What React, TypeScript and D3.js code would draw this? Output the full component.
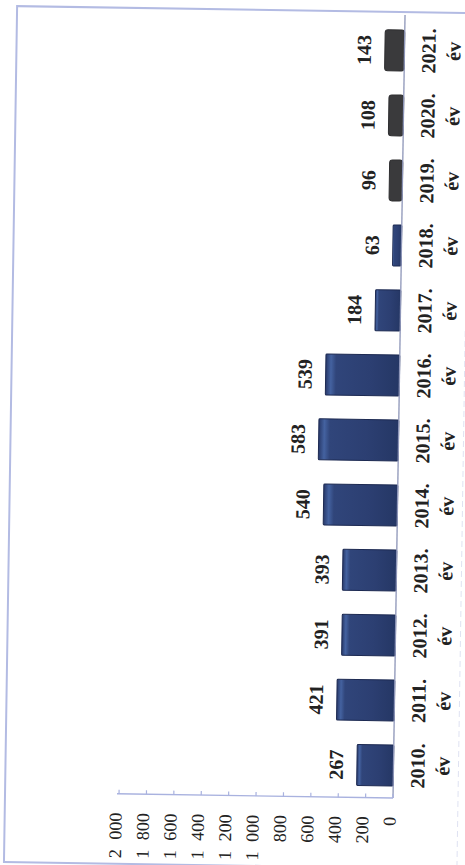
import React from 'react';
import * as d3 from 'd3';

const categories = ['2010.', '2011.', '2012.', '2013.', '2014.', '2015.', '2016.', '2017.', '2018.', '2019.', '2020.', '2021.'];
const subLabel = 'év';
const values = [267, 421, 391, 393, 540, 583, 539, 184, 63, 96, 108, 143];
const darkYears = ['2019.', '2020.', '2021.'];
const tickValues = [0, 200, 400, 600, 800, 1000, 1200, 1400, 1600, 1800, 2000];
const tickLabels = ['0', '200', '400', '600', '800', '1 000', '1 200', '1 400', '1 600', '1 800', '2 000'];

const SERIF = "'Liberation Serif', 'Times New Roman', serif";

export default function App() {
  const W = 465;
  const H = 865;
  const axisX = 393;
  const axisY = 798;

  const y = d3
    .scaleBand<string>()
    .domain(categories)
    .range([axisY, 18])
    .paddingInner(0.37)
    .paddingOuter(0.185);

  const x = d3.scaleLinear().domain([0, 2000]).range([axisX, 119]);

  const frameColor = '#b3bbe3';

  return (
    <svg
      width={W}
      height={H}
      style={{ position: 'absolute', left: 0, top: 0, display: 'block' }}
    >
      <defs>
        <linearGradient id="navy" x1="0" y1="0" x2="1" y2="0">
          <stop offset="0%" stopColor="#28396a" />
          <stop offset="7%" stopColor="#4462a0" />
          <stop offset="14%" stopColor="#30457a" />
          <stop offset="60%" stopColor="#2c3f72" />
          <stop offset="100%" stopColor="#253765" />
        </linearGradient>
      </defs>
      <rect x={0} y={0} width={W} height={H} fill="#ffffff" />
      <g transform={`rotate(0.88, ${axisX}, ${axisY})`}>
        {/* page frame */}
        <rect x={5} y={12} width={520} height={856} fill="none" stroke={frameColor} strokeWidth={2} />
        <line x1={458} x2={458} y1={330} y2={880} stroke="#dfe2f2" strokeWidth={1} strokeDasharray="6 4" />

        {/* bars */}
        {categories.map((c, i) => {
          const v = values[i];
          const x0 = x(v);
          const w = axisX - x0;
          const yy = y(c) as number;
          const dark = darkYears.includes(c);
          return (
            <rect
              key={c}
              x={x0}
              y={yy}
              width={w}
              height={y.bandwidth()}
              rx={dark ? 3 : 1}
              fill={dark ? '#3a3a3c' : 'url(#navy)'}
              stroke={dark ? '#2e2e30' : '#1d2a52'}
              strokeWidth={1}
            />
          );
        })}

        {/* category axis line */}
        <line x1={axisX} x2={axisX} y1={axisY} y2={15} stroke="#8d95b8" strokeWidth={1.3} />

        {/* value axis */}
        <line x1={117} x2={axisX} y1={axisY} y2={axisY} stroke="#a9b2df" strokeWidth={1.3} />
        {tickValues.map((t) => (
          <line key={t} x1={x(t)} x2={x(t)} y1={axisY} y2={axisY - 4} stroke="#a9b2df" strokeWidth={1.2} />
        ))}
        {tickValues.map((t, i) => (
          <text
            key={'tl' + t}
            transform={`translate(${x(t) + 3},${817}) rotate(-90)`}
            textAnchor="end"
            fontFamily={SERIF}
            fontSize={18}
            fill="#222"
            style={{ wordSpacing: '5px' }}
          >
            {tickLabels[i]}
          </text>
        ))}

        {/* value labels */}
        {categories.map((c, i) => {
          const v = values[i];
          const cy = (y(c) as number) + y.bandwidth() / 2;
          return (
            <text
              key={'v' + c}
              transform={`translate(${x(v) - 14},${cy}) rotate(-90)`}
              textAnchor="middle"
              fontFamily={SERIF}
              fontWeight="bold"
              fontSize={20}
              fill="#222"
            >
              {v}
            </text>
          );
        })}

        {/* category labels */}
        {categories.map((c) => {
          const cy = (y(c) as number) + y.bandwidth() / 2;
          return (
            <g key={'c' + c}>
              <text
                transform={`translate(${axisX + 31},${cy}) rotate(-90)`}
                textAnchor="middle"
                fontFamily={SERIF}
                fontWeight="bold"
                fontSize={20}
                fill="#222"
              >
                {c}
              </text>
              <text
                transform={`translate(${axisX + 56},${cy}) rotate(-90)`}
                textAnchor="middle"
                fontFamily={SERIF}
                fontWeight="bold"
                fontSize={20}
                fill="#222"
              >
                {subLabel}
              </text>
            </g>
          );
        })}
      </g>
    </svg>
  );
}
